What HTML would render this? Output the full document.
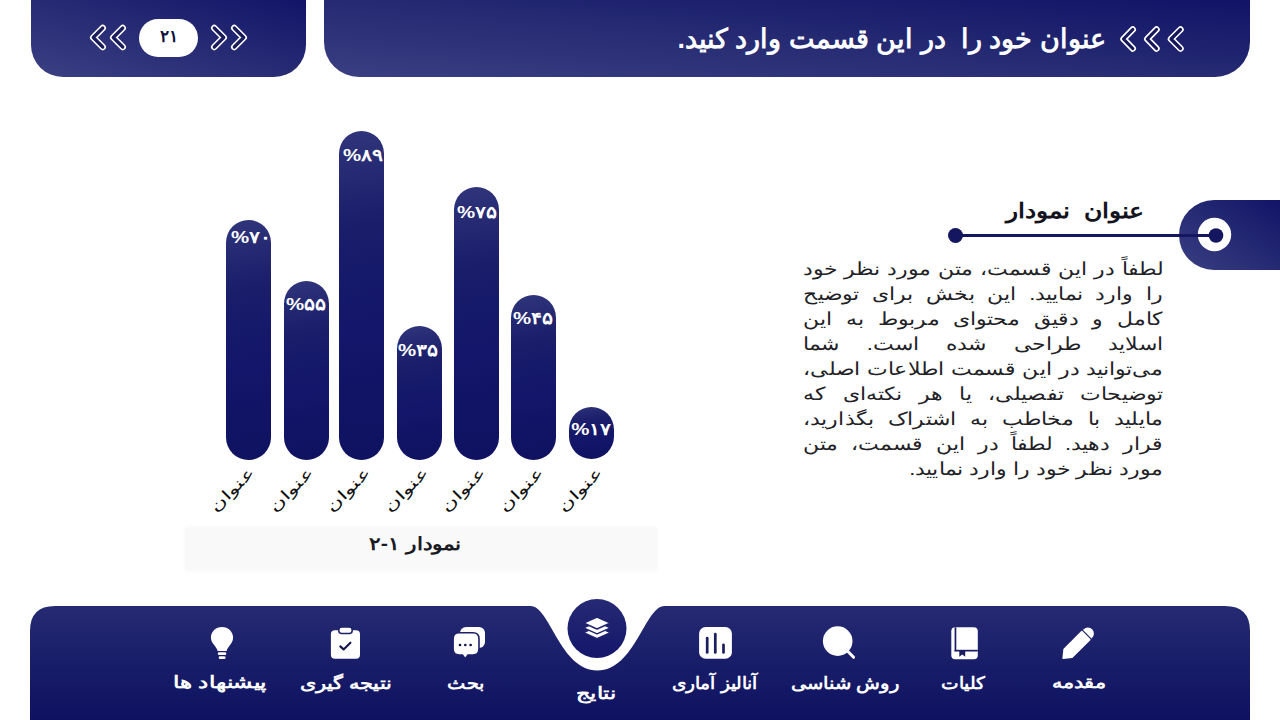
<!DOCTYPE html>
<html lang="fa">
<head>
<meta charset="utf-8">
<title>Slide</title>
<style>
*{margin:0;padding:0;box-sizing:border-box}
html,body{width:1280px;height:720px;overflow:hidden;background:#fff}
body{position:relative;font-family:"Liberation Sans",sans-serif;color:#1b1b22}
.abs{position:absolute}
.t{position:absolute;white-space:nowrap;direction:rtl}
#hl{position:absolute;left:31px;top:0;width:275px;height:77px;border-radius:0 0 32px 32px;background:linear-gradient(to top right,#3b3f83 0%,#272b74 50%,#121468 100%)}
#hr{position:absolute;left:324px;top:0;width:926px;height:76.5px;border-radius:0 0 35px 35px;background:linear-gradient(to top right,#3a3e82 0%,#252a72 50%,#111367 100%)}
#pill{left:139px;top:19px;width:59px;height:38px;border-radius:19px;background:#fff;color:#10113e;font-weight:bold;font-size:17px;line-height:38px;text-align:center;direction:rtl}
#title{right:174px;top:21px;color:#fff;font-weight:bold;font-size:27px;line-height:36px;transform-origin:right center}
.bar{position:absolute;width:45px;border-radius:22.5px;background:linear-gradient(170deg,#31357b 0%,#272b74 12%,#191d6a 30%,#13166a 60%,#0f1260 100%)}
.pct{position:absolute;left:-10.5px;width:66px;top:8px;text-align:center;color:#fff;font-weight:bold;font-size:17px;line-height:20px;direction:ltr;white-space:nowrap;transform:scaleX(1.2)}
.lbl{position:absolute;width:60px;height:20px;margin-left:-30px;margin-top:-10px;text-align:center;font-size:15px;line-height:20px;color:#111;white-space:nowrap;direction:rtl;transform:rotate(-45deg) scaleX(1.5)}
#cap{left:185px;top:527px;width:472px;height:44px;background:#f9f9fa;border-radius:3px;box-shadow:0 0 4px 1px #fbfbfb}
#captxt{left:180px;top:524.5px;width:470px;height:41px;line-height:38px;text-align:center;font-weight:bold;font-size:18px;color:#1a1a22;direction:rtl;transform:scaleX(1.2)}
#tab{position:absolute;left:1178.5px;top:200px;width:101.5px;height:69.5px;border-radius:35px 0 0 35px;background:linear-gradient(to top right,#3a3e82 0%,#252a73 50%,#121468 100%)}
#h2{right:135px;top:196px;font-weight:bold;font-size:21px;line-height:30px;color:#141420;transform:scaleX(1.19);transform-origin:right center}
#para{position:absolute;left:868px;top:256.5px;width:295px;font-size:18px;line-height:25px;color:#222226;direction:rtl;transform:scaleX(1.22);transform-origin:right top}
#para div{text-align:justify;text-align-last:justify;white-space:nowrap;height:25px}
#para div.last{text-align:right;text-align-last:right}
.nl{position:absolute;width:160px;margin-left:-80px;color:#fff;font-weight:bold;font-size:17px;line-height:22px;white-space:nowrap;direction:rtl;text-align:center}
</style>
</head>
<body>
<!-- top-left panel -->
<div id="hl"></div>
<svg class="abs" style="left:0;top:0" width="320" height="80" viewBox="0 0 320 80">
  <g fill="none" stroke-linecap="round" stroke-linejoin="round">
    <g stroke="#fff" stroke-width="6.5"><path d="M102.75 28 L93.25 37.5 L102.75 47"/><path d="M122.75 28 L113.25 37.5 L122.75 47"/><path d="M214.25 28 L223.75 37.5 L214.25 47"/><path d="M234.25 28 L243.75 37.5 L234.25 47"/></g>
    <g stroke="#1a1c5c" stroke-width="3.2"><path d="M102.75 28 L93.25 37.5 L102.75 47"/><path d="M122.75 28 L113.25 37.5 L122.75 47"/><path d="M214.25 28 L223.75 37.5 L214.25 47"/><path d="M234.25 28 L243.75 37.5 L234.25 47"/></g>
  </g>
</svg>
<div id="pill" class="abs"><span id="pilltxt" style="position:relative;top:-1.5px">۲۱</span></div>

<!-- top-right panel -->
<div id="hr"></div>
<svg class="abs" style="left:1100px;top:0" width="100" height="80" viewBox="1100 0 100 80">
  <g fill="none" stroke-linecap="round" stroke-linejoin="round">
    <g stroke="#fff" stroke-width="6.5"><path d="M1132.75 29.5 L1123.5 39 L1132.75 48.5"/><path d="M1156.5 29.5 L1147.25 39 L1156.5 48.5"/><path d="M1180.5 29.5 L1171 39 L1180.5 48.5"/></g>
    <g stroke="#15175a" stroke-width="3.2"><path d="M1132.75 29.5 L1123.5 39 L1132.75 48.5"/><path d="M1156.5 29.5 L1147.25 39 L1156.5 48.5"/><path d="M1180.5 29.5 L1171 39 L1180.5 48.5"/></g>
  </g>
</svg>
<div id="title" class="t">عنوان خود را&nbsp; در این قسمت وارد کنید.</div>

<!-- chart -->
<div class="bar" style="left:226px;top:220.3px;height:239.7px"><div class="pct" id="p1" style="top:7.3px;left:-8.5px">%۷۰</div></div>
<div class="bar" style="left:284px;top:280.8px;height:179.2px"><div class="pct" id="p2" style="top:14.1px;left:-11px">%۵۵</div></div>
<div class="bar" style="left:339px;top:131.3px;height:328.7px"><div class="pct" id="p3" style="top:15.1px;left:-8.9px">%۸۹</div></div>
<div class="bar" style="left:397px;top:326.1px;height:133.9px"><div class="pct" id="p4" style="top:14.7px;left:-11.8px">%۳۵</div></div>
<div class="bar" style="left:453.5px;top:187.4px;height:272.6px"><div class="pct" id="p5" style="top:15.4px;left:-9.5px">%۷۵</div></div>
<div class="bar" style="left:511px;top:294.7px;height:165.3px"><div class="pct" id="p6" style="top:14.3px;left:-10.7px">%۴۵</div></div>
<div class="bar" style="left:568.5px;top:407.2px;height:51.8px"><div class="pct" id="p7" style="top:12.4px;left:-10.3px">%۱۷</div></div>

<div class="lbl" id="l1" style="left:231.5px;top:490px">عنوان</div>
<div class="lbl" id="l2" style="left:290.5px;top:490px">عنوان</div>
<div class="lbl" id="l3" style="left:347.5px;top:490px">عنوان</div>
<div class="lbl" id="l4" style="left:405.5px;top:490px">عنوان</div>
<div class="lbl" id="l5" style="left:462.5px;top:490px">عنوان</div>
<div class="lbl" id="l6" style="left:520.5px;top:490px">عنوان</div>
<div class="lbl" id="l7" style="left:579.5px;top:490px">عنوان</div>

<div id="cap" class="abs"></div>
<div id="captxt" class="abs">نمودار ۱-۲</div>

<!-- right text section -->
<div id="tab"></div>
<svg class="abs" style="left:940px;top:215px" width="300" height="40" viewBox="940 215 300 40">
  <circle cx="1214.5" cy="234.5" r="16.7" fill="#fff"/>
  <line x1="955" y1="235.5" x2="1214" y2="235.5" stroke="#141660" stroke-width="3"/>
  <circle cx="955.5" cy="235.5" r="7.5" fill="#141660"/>
  <circle cx="1216" cy="235.5" r="7.3" fill="#141660"/>
</svg>
<div id="h2" class="t">عنوان&nbsp; نمودار</div>
<div id="para">
<div>لطفاً در این قسمت، متن مورد نظر خود</div>
<div>را وارد نمایید. این بخش برای توضیح</div>
<div>کامل و دقیق محتوای مربوط به این</div>
<div>اسلاید طراحی شده است. شما</div>
<div>می‌توانید در این قسمت اطلاعات اصلی،</div>
<div>توضیحات تفصیلی، یا هر نکته‌ای که</div>
<div>مایلید با مخاطب به اشتراک بگذارید،</div>
<div>قرار دهید. لطفاً در این قسمت، متن</div>
<div class="last">مورد نظر خود را وارد نمایید.</div>
</div>

<!-- footer -->
<svg class="abs" style="left:0;top:590px" width="1280" height="130" viewBox="0 590 1280 130">
  <defs>
    <linearGradient id="fg" x1="0" y1="606" x2="0" y2="720" gradientUnits="userSpaceOnUse">
      <stop offset="0" stop-color="#252a72"/>
      <stop offset="1" stop-color="#0d1160"/>
    </linearGradient>
    <linearGradient id="cg" x1="0" y1="599" x2="0" y2="658" gradientUnits="userSpaceOnUse">
      <stop offset="0" stop-color="#262a74"/>
      <stop offset="1" stop-color="#13166a"/>
    </linearGradient>
  </defs>
  <path fill="url(#fg)" d="M30 720 L30 631 Q30 606 55 606 L530.5 606 C550 606 560 670.5 597.5 670.5 C635 670.5 645 606 664.5 606 L1225 606 Q1250 606 1250 631 L1250 720 Z"/>
  <circle cx="597" cy="628.5" r="29.5" fill="url(#cg)"/>
  <!-- layers -->
  <g fill="#fff" stroke="#1f2370" stroke-width="1.4" stroke-linejoin="round">
    <path d="M597 626.6 L610.4 632.6 L597 638.6 L583.6 632.6 Z"/>
    <path d="M597 621.9 L610.4 627.9 L597 633.9 L583.6 627.9 Z"/>
    <path d="M597 617 L610.4 623 L597 629 L583.6 623 Z"/>
  </g>
  <!-- pencil -->
  <g transform="translate(1077.3 644.1) rotate(-45)" fill="#fff">
    <path d="M-20 0 L-13 -5.6 L12 -5.6 L12 5.6 L-13 5.6 Z" stroke="#fff" stroke-width="1.6" stroke-linejoin="round"/>
    <path d="M14 -6 L15 -6 A6 6 0 0 1 15 6 L14 6 Z"/>
  </g>
  <!-- book -->
  <rect x="951.3" y="627.3" width="26.5" height="31.9" rx="4" fill="#fff"/>
  <rect x="954.6" y="627.3" width="1.7" height="24" fill="#1a1d62"/>
  <rect x="954.6" y="649.8" width="23.2" height="1.7" fill="#1a1d62"/>
  <path d="M959.3 650 L965.2 650 L965.2 656.8 L962.25 654.6 L959.3 656.8 Z" fill="#1a1d62"/>
  <!-- search -->
  <circle cx="837.7" cy="641.1" r="14.8" fill="#fff"/>
  <line x1="846" y1="649.5" x2="853.6" y2="657.3" stroke="#fff" stroke-width="3" stroke-linecap="round"/>
  <!-- chart -->
  <rect x="699.1" y="627" width="32.8" height="31.7" rx="6.5" fill="#fff"/>
  <g stroke="#1a1d5e" stroke-width="2.7" stroke-linecap="round">
    <line x1="707.2" y1="638.2" x2="707.2" y2="652.4"/>
    <line x1="715.3" y1="634" x2="715.3" y2="652.4"/>
    <line x1="723.5" y1="644.8" x2="723.5" y2="652.4"/>
  </g>
  <!-- comments -->
  <rect x="460" y="626.9" width="25" height="21.2" rx="6" fill="#fff"/>
  <g stroke="#1c2069" stroke-width="1.6">
    <path fill="#fff" d="M459.1 632.8 L473 632.8 Q479 632.8 479 638.8 L479 649 Q479 655 473 655 L468 655 L465.2 658.8 L462.4 655 L459.1 655 Q453.1 655 453.1 649 L453.1 638.8 Q453.1 632.8 459.1 632.8 Z" stroke-linejoin="round"/>
  </g>
  <g fill="#15174a"><circle cx="460" cy="645" r="1.35"/><circle cx="465.3" cy="645" r="1.35"/><circle cx="470.6" cy="645" r="1.35"/></g>
  <!-- clipboard -->
  <rect x="330.9" y="630.3" width="29.1" height="28.45" rx="4" fill="#fff"/>
  <rect x="338.75" y="626.9" width="13.45" height="6.5" rx="3" fill="#fff" stroke="#1c2069" stroke-width="1.5"/>
  <polyline points="340.3,646.4 343.6,649.4 350.4,642.7" fill="none" stroke="#15174a" stroke-width="2.1" stroke-linecap="round" stroke-linejoin="round"/>
  <!-- bulb -->
  <path fill="#fff" d="M222 626.9 C228.3 626.9 233.1 631.6 233.1 637.6 C233.1 641.3 231.2 643.6 229.5 645.8 C227.9 647.9 227 649.4 226.6 651 L217.6 651 C217.2 649.4 216.3 647.9 214.7 645.8 C213 643.6 210.9 641.3 210.9 637.6 C210.9 631.6 215.7 626.9 222 626.9 Z"/>
  <rect x="217.8" y="652.2" width="8.45" height="2.8" rx="1.2" fill="#fff"/>
  <rect x="218.75" y="656.25" width="6.85" height="2.8" rx="1.3" fill="#fff"/>
</svg>

<div class="nl" id="n1" style="left:1079.2px;top:672px;transform:scaleX(1.22)">مقدمه</div>
<div class="nl" id="n2" style="left:962.8px;top:673px;transform:scaleX(1.1)">کلیات</div>
<div class="nl" id="n3" style="left:844.6px;top:673px;transform:scaleX(1.15)">روش شناسی</div>
<div class="nl" id="n4" style="left:715px;top:673px;transform:scaleX(1.09)">آنالیز آماری</div>
<div class="nl" id="n5" style="left:595.7px;top:682.5px;transform:scaleX(1.32)">نتایج</div>
<div class="nl" id="n6" style="left:466.4px;top:673px;transform:scaleX(1.14)">بحث</div>
<div class="nl" id="n7" style="left:345.7px;top:673px;transform:scaleX(1.23)">نتیجه گیری</div>
<div class="nl" id="n8" style="left:219.8px;top:672px;transform:scaleX(1.35)">پیشنهاد ها</div>

</body>
</html>
